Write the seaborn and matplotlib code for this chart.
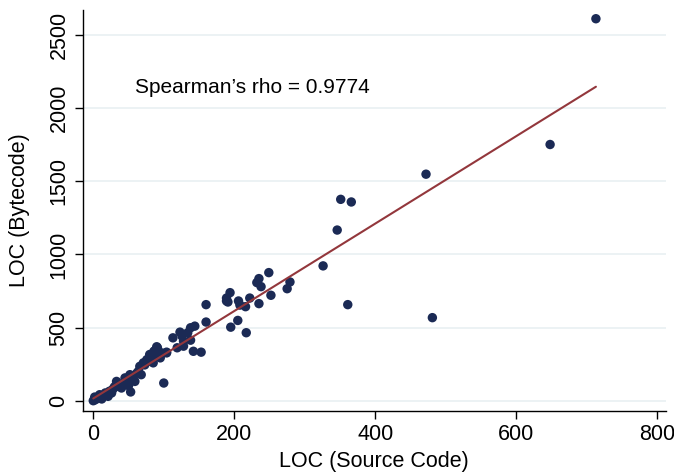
import numpy as np
import pandas as pd
import matplotlib
matplotlib.use("Agg")
import matplotlib.pyplot as plt
import seaborn as sns

# LOC per klasse: broncode vs bytecode
loc_source = [0, 3, 2, 12, 9, 17, 21, 26, 28, 35, 33, 40, 43, 45, 50, 52, 54, 53, 59,
              64, 66, 68, 71, 76, 80, 85, 90, 95, 97, 104, 100, 91, 86, 84, 95, 104,
              113, 119, 128, 128, 126, 123, 134, 138, 138, 144, 142, 153, 160, 160,
              189, 191, 189, 194, 195, 205, 206, 208, 216, 217, 222, 232, 235, 235,
              238, 249, 252, 275, 279, 326, 346, 351, 366, 361, 481, 472, 648, 713,
              7, 15, 23, 30, 38, 47, 57, 62, 73, 78, 82, 88]
loc_bytecode = [0, 7, 25, 12, 41, 53, 30, 53, 80, 98, 132, 87, 121, 156, 103, 178, 144, 60, 132,
                201, 235, 178, 259, 281, 316, 259, 369, 293, 327, 327, 121, 362, 338, 304, 309, 332,
                430, 362, 373, 407, 441, 469, 465, 414, 499, 510, 338, 332, 657, 538,
                682, 675, 702, 739, 503, 549, 682, 654, 643, 465, 702, 808, 835, 664,
                780, 876, 721, 766, 812, 922, 1167, 1377, 1359, 657, 568, 1549, 1752, 2612,
                20, 35, 65, 95, 110, 140, 170, 190, 245, 270, 290, 345]

x_ticks = [0, 200, 400, 600, 800]
y_ticks = [0, 500, 1000, 1500, 2000, 2500]
rho_text = "Spearman\u2019s rho = 0.9774"

df = pd.DataFrame({'src': loc_source, 'byte': loc_bytecode})

sns.set_style("white")
plt.rcParams['font.family'] = ['Liberation Sans', 'DejaVu Sans']
plt.rcParams['text.color'] = 'black'
plt.rcParams['axes.labelcolor'] = 'black'
plt.rcParams['xtick.color'] = 'black'
plt.rcParams['ytick.color'] = 'black'

fig = plt.figure(figsize=(6.74, 4.74), dpi=100)
ax = fig.add_axes([0.1227, 0.133, 0.865, 0.846])

sns.regplot(x='src', y='byte', data=df, ci=None, ax=ax,
            scatter_kws={'s': 46, 'color': '#1b2a55', 'edgecolor': 'none', 'alpha': 1},
            line_kws={'color': '#93373c', 'linewidth': 1.5})

ax.set_xlim(-15, 812)
ax.set_ylim(-70, 2672)
ax.set_xticks(x_ticks)
ax.set_yticks(y_ticks)
ax.tick_params(axis='both', direction='out', length=6, width=1, color='black',
               labelcolor='black', labelsize=15.5, bottom=True, left=True)
for lab in ax.get_yticklabels():
    lab.set_rotation(90)
    lab.set_va('center')

ax.yaxis.grid(True, color='#e9f0f2', linewidth=1.2)
ax.xaxis.grid(False)
ax.set_axisbelow(True)
for side in ['top', 'right']:
    ax.spines[side].set_visible(False)
for side in ['left', 'bottom']:
    ax.spines[side].set_color('black')
    ax.spines[side].set_linewidth(1)

ax.set_xlabel('LOC (Source Code)', fontsize=15.5, labelpad=4, color='black')
ax.set_ylabel('LOC (Bytecode)', fontsize=15.5, labelpad=13, color='black')
ax.text(59, 2140, rho_text, fontsize=15, ha='left', va='center', color='black')

fig.savefig('out.png', dpi=100)
